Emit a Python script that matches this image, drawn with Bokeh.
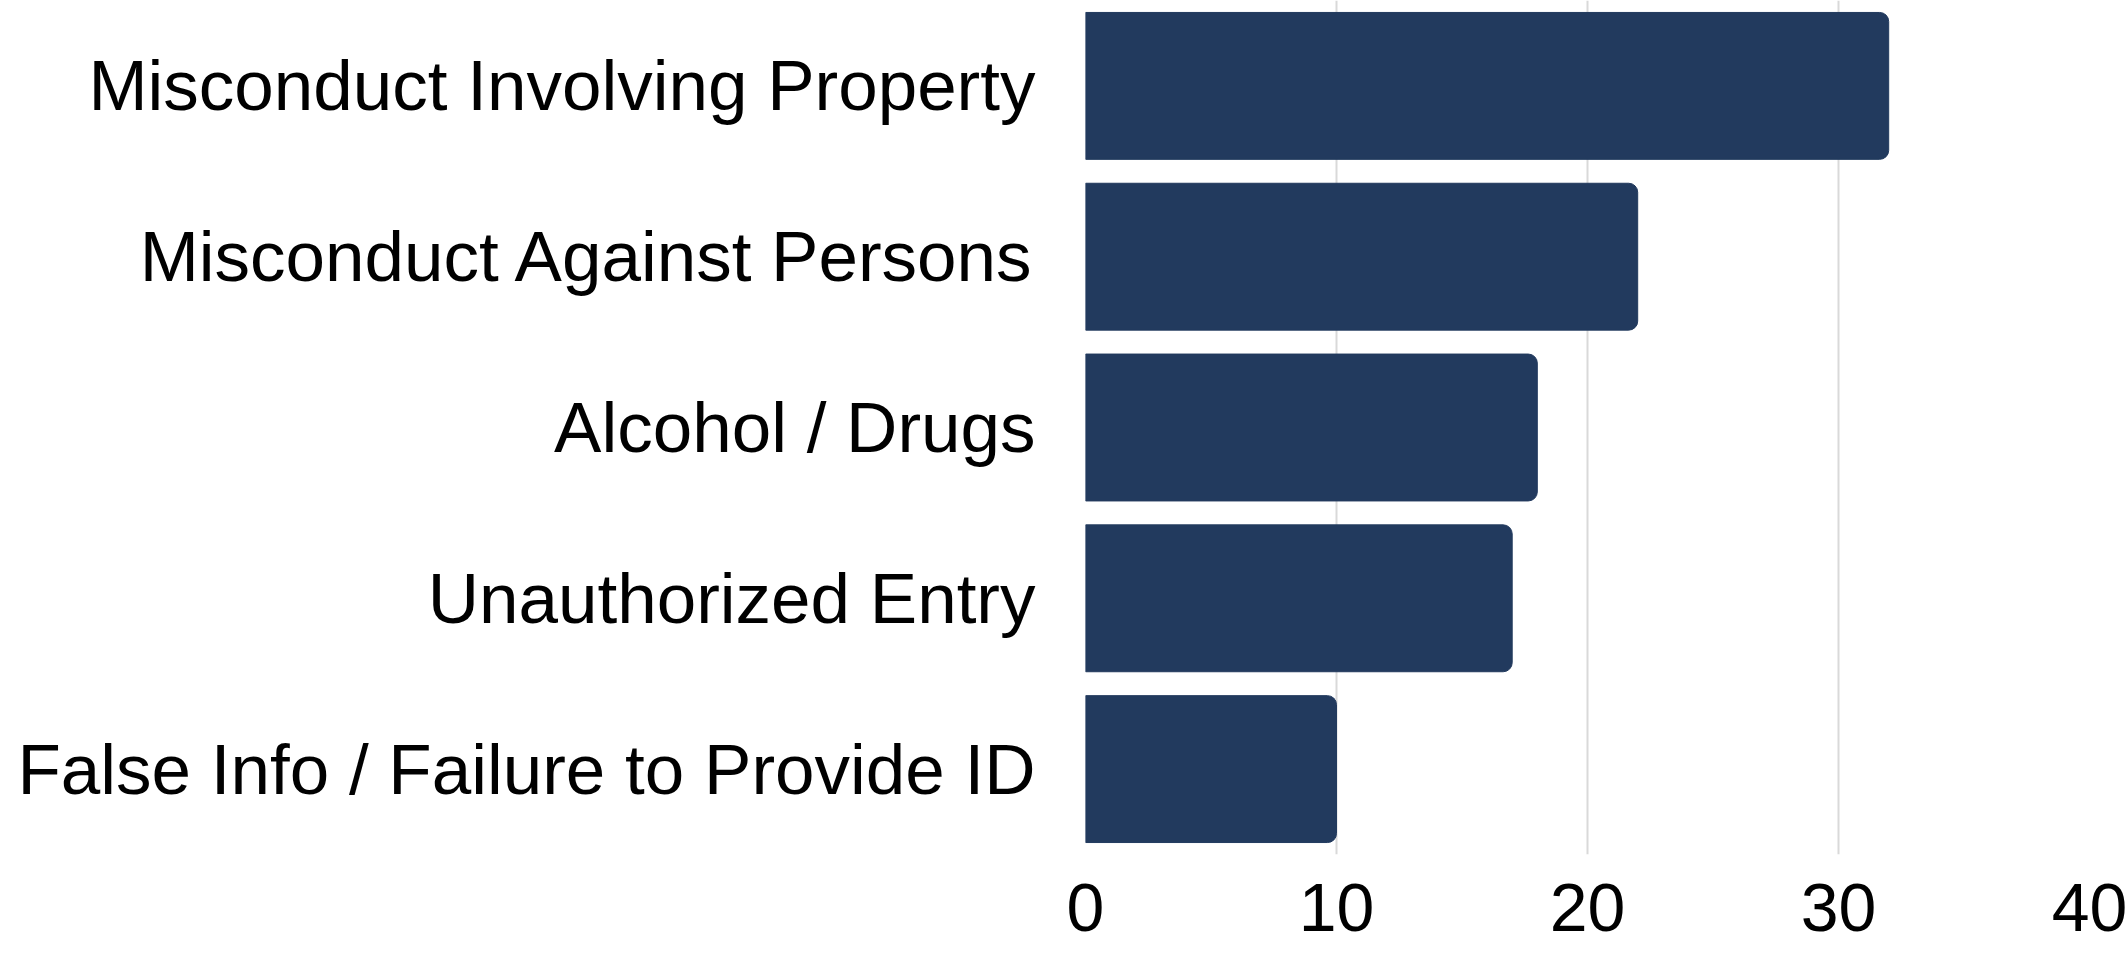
from bokeh.plotting import figure
from bokeh.models import FactorRange, Range1d, FixedTicker
from bokeh.embed import file_html
from bokeh.resources import INLINE

categories = [
    "Misconduct Involving Property",
    "Misconduct Against Persons",
    "Alcohol / Drugs",
    "Unauthorized Entry",
    "False Info / Failure to Provide ID",
]
counts = [32, 22, 18, 17, 10]
x_ticks = [0, 10, 20, 30, 40]

BAR_COLOR = "#223a5e"
FONT = "Liberation Sans"

p = figure(
    width=2127, height=956,
    y_range=FactorRange(factors=list(reversed(categories)), range_padding=0),
    x_range=Range1d(0, 40),
    output_backend="svg", toolbar_location=None,
    min_border_left=1085, min_border_right=38, min_border_top=0, min_border_bottom=102,
)
p.hbar(y=categories, right=counts, left=0, height=0.86, color=BAR_COLOR,
       border_radius=(0, 9, 9, 0))

p.outline_line_color = None
p.background_fill_color = "white"
p.border_fill_color = "white"

p.ygrid.grid_line_color = None
p.xgrid.grid_line_color = "#d9d9d9"
p.xgrid.grid_line_width = 2
p.xgrid.ticker = FixedTicker(ticks=x_ticks)
p.xaxis.ticker = FixedTicker(ticks=x_ticks)

for ax in (p.xaxis, p.yaxis):
    ax.axis_line_color = None
    ax.major_tick_line_color = None
    ax.minor_tick_line_color = None
    ax.major_label_text_font = FONT
    ax.major_label_text_color = "#000000"

p.xaxis.major_label_text_font_size = "68px"
p.xaxis.major_label_standoff = 23
p.yaxis.major_label_text_font_size = "71px"
p.yaxis.major_label_standoff = 44

open("out.html", "w").write(file_html(p, INLINE))
